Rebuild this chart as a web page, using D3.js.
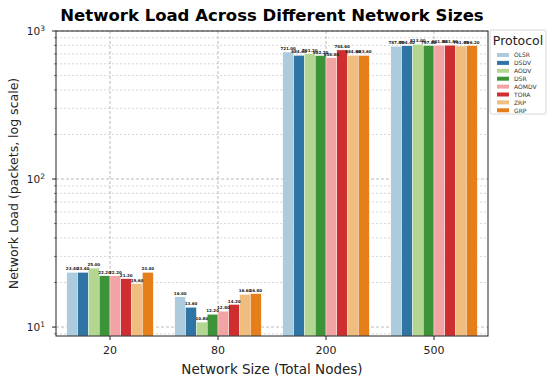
<!DOCTYPE html>
<html>
<head>
<meta charset="utf-8">
<script src="https://cdn.jsdelivr.net/npm/d3@7"></script>
<style>
  body { margin: 0; background: #fff; }
  svg { font-family: "DejaVu Sans", sans-serif; }
</style>
</head>
<body>
<svg id="chart" width="550" height="382"></svg>
<script>
const sizes = ["20", "80", "200", "500"];
const protocols = ["OLSR", "DSDV", "AODV", "DSR", "AOMDV", "TORA", "ZRP", "GRP"];
const paired = ["#a6cee3", "#1f78b4", "#b2df8a", "#33a02c", "#fb9a99", "#e31a1c", "#fdbf6f", "#ff7f00"];
const loads = {
  OLSR: [23.4, 16.0, 721.0, 787.8],
  DSDV: [23.4, 13.6, 684.6, 794.4],
  AODV: [25.0, 10.8, 701.2, 813.0],
  DSR: [22.2, 12.2, 682.2, 797.8],
  AOMDV: [22.2, 12.8, 658.8, 801.8],
  TORA: [21.2, 14.2, 744.6, 801.8],
  ZRP: [19.6, 16.6, 684.8, 791.6],
  GRP: [23.4, 16.8, 683.6, 796.2],
};

// slightly desaturated palette, like the source
const colors = paired.map((c) => {
  const h = d3.hsl(c);
  h.s *= 0.8;
  return h.formatHex();
});

const svg = d3.select("#chart");
const margin = { left: 56, right: 488, top: 31, bottom: 336 };

const x = d3.scaleBand().domain(sizes).range([margin.left, margin.right]);
const xInner = d3
  .scaleBand()
  .domain(protocols)
  .range([0, x.bandwidth() * 0.8]);
const y = d3.scaleLog().domain([8.7, 1000]).range([margin.bottom, margin.top]);

// grid
const minorTicks = [];
for (let e = 0; e < 3; e++) {
  for (let k = 2; k <= 9; k++) minorTicks.push(k * Math.pow(10, e));
}
const shownMinor = minorTicks.filter((v) => v >= 8.7 && v <= 1000);
const grid = svg.append("g");
grid
  .selectAll("line.minor")
  .data(shownMinor)
  .enter()
  .append("line")
  .attr("x1", margin.left)
  .attr("x2", margin.right)
  .attr("y1", (d) => y(d))
  .attr("y2", (d) => y(d))
  .attr("stroke", "#bbb")
  .attr("stroke-width", 0.6)
  .attr("stroke-dasharray", "2,2");
grid
  .selectAll("line.major")
  .data([10, 100, 1000])
  .enter()
  .append("line")
  .attr("x1", margin.left)
  .attr("x2", margin.right)
  .attr("y1", (d) => y(d))
  .attr("y2", (d) => y(d))
  .attr("stroke", "#aaa")
  .attr("stroke-width", 0.8)
  .attr("stroke-dasharray", "3,2");
grid
  .selectAll("line.vx")
  .data(sizes)
  .enter()
  .append("line")
  .attr("x1", (d) => x(d) + x.bandwidth() / 2)
  .attr("x2", (d) => x(d) + x.bandwidth() / 2)
  .attr("y1", margin.top)
  .attr("y2", margin.bottom)
  .attr("stroke", "#aaa")
  .attr("stroke-width", 0.8)
  .attr("stroke-dasharray", "3,2");

// bars
const rows = [];
protocols.forEach((p, i) => {
  sizes.forEach((s, j) => rows.push({ p, s, v: loads[p][j], c: colors[i] }));
});
const off = x.bandwidth() * 0.1;
const bars = svg.append("g");
bars
  .selectAll("rect")
  .data(rows)
  .enter()
  .append("rect")
  .attr("x", (d) => x(d.s) + off + xInner(d.p))
  .attr("width", xInner.bandwidth())
  .attr("y", (d) => y(d.v))
  .attr("height", (d) => margin.bottom - y(d.v))
  .attr("fill", (d) => d.c)
  .attr("stroke", "#fff")
  .attr("stroke-width", 0.4);
bars
  .selectAll("text")
  .data(rows)
  .enter()
  .append("text")
  .attr("x", (d) => x(d.s) + off + xInner(d.p) + xInner.bandwidth() / 2)
  .attr("y", (d) => y(d.v) - 2)
  .attr("text-anchor", "middle")
  .attr("font-size", 4)
  .attr("font-weight", "bold")
  .attr("fill", "#222")
  .text((d) => d.v.toFixed(2));

// frame
svg
  .append("rect")
  .attr("x", margin.left)
  .attr("y", margin.top)
  .attr("width", margin.right - margin.left)
  .attr("height", margin.bottom - margin.top)
  .attr("fill", "none")
  .attr("stroke", "#222")
  .attr("stroke-width", 1);

// x axis
const xa = svg.append("g");
xa.selectAll("line")
  .data(sizes)
  .enter()
  .append("line")
  .attr("x1", (d) => x(d) + x.bandwidth() / 2)
  .attr("x2", (d) => x(d) + x.bandwidth() / 2)
  .attr("y1", margin.bottom)
  .attr("y2", margin.bottom + 4)
  .attr("stroke", "#222");
xa.selectAll("text")
  .data(sizes)
  .enter()
  .append("text")
  .attr("x", (d) => x(d) + x.bandwidth() / 2)
  .attr("y", margin.bottom + 18)
  .attr("text-anchor", "middle")
  .attr("font-size", 11)
  .attr("fill", "#222")
  .text((d) => d);

// y axis
const ya = svg.append("g");
ya.selectAll("line.minor")
  .data(shownMinor)
  .enter()
  .append("line")
  .attr("x1", margin.left - 2)
  .attr("x2", margin.left)
  .attr("y1", (d) => y(d))
  .attr("y2", (d) => y(d))
  .attr("stroke", "#222")
  .attr("stroke-width", 0.6);
ya.selectAll("line.major")
  .data([10, 100, 1000])
  .enter()
  .append("line")
  .attr("x1", margin.left - 4)
  .attr("x2", margin.left)
  .attr("y1", (d) => y(d))
  .attr("y2", (d) => y(d))
  .attr("stroke", "#222");
const yl = ya
  .selectAll("text")
  .data([10, 100, 1000])
  .enter()
  .append("text")
  .attr("x", margin.left - 11)
  .attr("y", (d) => y(d) + 4)
  .attr("text-anchor", "end")
  .attr("font-size", 10.5)
  .attr("fill", "#222");
yl.append("tspan").text("10");
yl.append("tspan")
  .attr("dy", -4.5)
  .attr("font-size", 7.5)
  .text((d) => Math.round(Math.log10(d)));

// labels
svg
  .append("text")
  .attr("x", 272)
  .attr("y", 21)
  .attr("text-anchor", "middle")
  .attr("font-size", 16.5)
  .attr("font-weight", "bold")
  .text("Network Load Across Different Network Sizes");
svg
  .append("text")
  .attr("x", 272)
  .attr("y", 374)
  .attr("text-anchor", "middle")
  .attr("font-size", 13.5)
  .attr("fill", "#222")
  .text("Network Size (Total Nodes)");
svg
  .append("text")
  .attr("transform", `translate(18, ${(margin.top + margin.bottom) / 2}) rotate(-90)`)
  .attr("text-anchor", "middle")
  .attr("font-size", 12.5)
  .attr("fill", "#222")
  .text("Network Load (packets, log scale)");

// legend
const lg = svg.append("g").attr("transform", "translate(490, 30)");
lg.append("rect")
  .attr("width", 56)
  .attr("height", 84)
  .attr("rx", 2)
  .attr("fill", "#fff")
  .attr("fill-opacity", 0.85)
  .attr("stroke", "#ccc")
  .attr("stroke-width", 0.8);
lg.append("text")
  .attr("x", 28)
  .attr("y", 15)
  .attr("text-anchor", "middle")
  .attr("font-size", 12.5)
  .attr("fill", "#222")
  .text("Protocol");
const item = lg
  .selectAll("g.item")
  .data(protocols)
  .enter()
  .append("g")
  .attr("transform", (d, i) => `translate(7, ${23 + i * 7.9})`);
item
  .append("rect")
  .attr("width", 12)
  .attr("height", 4)
  .attr("fill", (d, i) => colors[i]);
item
  .append("text")
  .attr("x", 17)
  .attr("y", 4.3)
  .attr("font-size", 6)
  .attr("fill", "#333")
  .text((d) => d);
</script>
</body>
</html>
